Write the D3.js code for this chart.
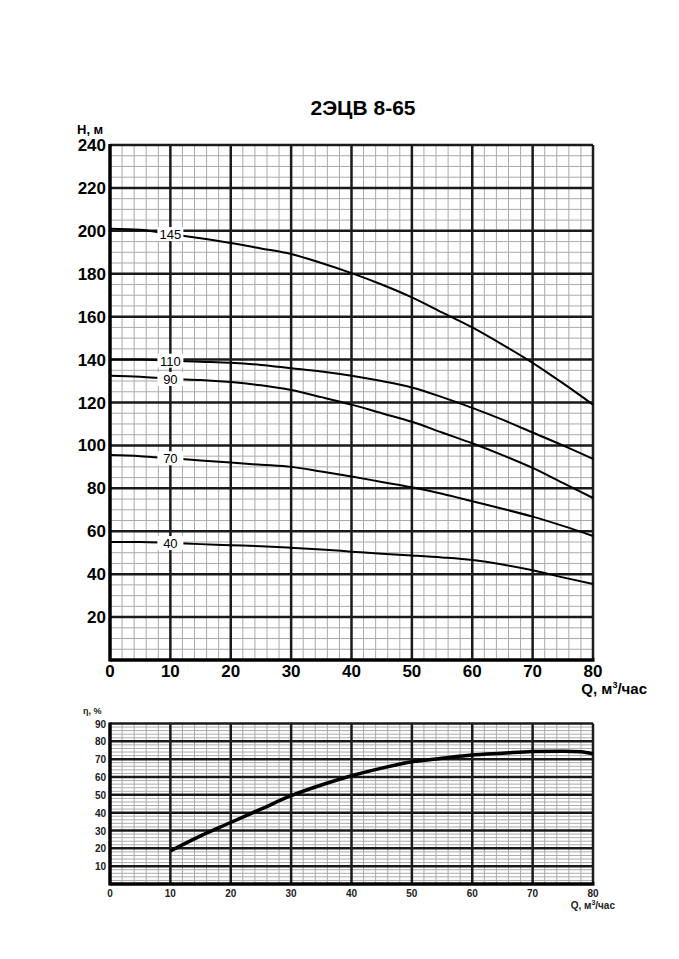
<!DOCTYPE html>
<html>
<head>
<meta charset="utf-8">
<script src="https://cdn.jsdelivr.net/npm/d3@7"></script>
<style>
  body { margin: 0; background: #fff; }
  text { font-family: "Liberation Sans", Arial, sans-serif; }
</style>
</head>
<body>
<div id="viz"></div>
<script>
// Pump 2ЭЦВ 8-65: head curves for several stage counts + efficiency curve

var title = "2ЭЦВ 8-65";

// head chart, Q in m3/h, H in m
var flowQ = [0, 5, 10, 15, 20, 25, 30, 35, 40, 45, 50, 55, 60, 65, 70, 75, 80];
var curveLabels = ["145", "110", "90", "70", "40"];
var head145 = [201, 200.5, 198.5, 196.5, 194.3, 191.8, 189.2, 185, 180.3, 175, 169, 162, 155, 147, 138.5, 129, 119];
var head110 = [140, 140, 139.5, 139, 138.5, 137.5, 136, 134.5, 132.5, 130, 127, 122.5, 117.5, 112, 106, 100, 93.7];
var head90  = [132.5, 132, 131, 130.5, 129.5, 128, 125.8, 122.5, 119, 115, 111, 106, 101, 95.5, 89.5, 82.5, 75.5];
var head70  = [95.5, 95, 94, 93, 92, 91, 90, 87.8, 85.5, 83, 80.5, 77.5, 74, 70.5, 66.8, 62.5, 57.8];
var head40  = [55, 55, 54.5, 54, 53.5, 53, 52.3, 51.5, 50.5, 49.5, 48.7, 47.8, 46.6, 44.5, 41.8, 38.5, 35.4];
var headTicks = [20, 40, 60, 80, 100, 120, 140, 160, 180, 200, 220, 240];
var flowTicks = [0, 10, 20, 30, 40, 50, 60, 70, 80];

// efficiency chart
var effQ   = [10, 15, 20, 25, 30, 35, 40, 45, 50, 55, 60, 65, 70, 75, 78, 80];
var effEta = [18.5, 27, 34.5, 42, 49.5, 55.5, 60.7, 65, 68.5, 70.5, 72.3, 73.3, 74.3, 74.5, 74.2, 73];
var etaTicks = [10, 20, 30, 40, 50, 60, 70, 80, 90];

var W = 679, H = 959;
var LEFT = 110, RIGHT = 593;
var topBox = {t: 145, b: 660};
var botBox = {t: 723.5, b: 884};

var svg = d3.select("#viz").append("svg")
    .attr("width", W).attr("height", H);

var x = d3.scaleLinear().domain([0, 80]).range([LEFT, RIGHT]);
var yH = d3.scaleLinear().domain([0, 240]).range([topBox.b, topBox.t]);
var yE = d3.scaleLinear().domain([0, 90]).range([botBox.b, botBox.t]);

// draws minor + major grid for one panel
function grid(g, y, yMax, yMinorStep, yMajorStep, majorW) {
    var minorX = d3.range(0, 81, 2).filter(function(d) { return d % 10 != 0; });
    var minorY = d3.range(0, yMax + 0.01, yMinorStep).filter(function(d) { return d % yMajorStep != 0; });
    g.selectAll(".mx").data(minorX).enter().append("line")
        .attr("x1", x).attr("x2", x).attr("y1", y(0)).attr("y2", y(yMax))
        .attr("stroke", "#aaa").attr("stroke-width", 1);
    g.selectAll(".my").data(minorY).enter().append("line")
        .attr("x1", LEFT).attr("x2", RIGHT).attr("y1", y).attr("y2", y)
        .attr("stroke", "#aaa").attr("stroke-width", 1);
    g.selectAll(".Mx").data(d3.range(10, 81, 10)).enter().append("line")
        .attr("x1", x).attr("x2", x).attr("y1", y(0)).attr("y2", y(yMax))
        .attr("stroke", "#1a1a1a").attr("stroke-width", majorW);
    g.selectAll(".My").data(d3.range(yMajorStep, yMax + 0.01, yMajorStep)).enter().append("line")
        .attr("x1", LEFT).attr("x2", RIGHT).attr("y1", y).attr("y2", y)
        .attr("stroke", "#1a1a1a").attr("stroke-width", majorW);
    // left and bottom axes heavier
    g.append("line").attr("x1", LEFT).attr("x2", LEFT).attr("y1", y(0) + 1.5).attr("y2", y(yMax) - 1)
        .attr("stroke", "#000").attr("stroke-width", 3.5);
    g.append("line").attr("x1", LEFT).attr("x2", RIGHT + 1.5).attr("y1", y(0)).attr("y2", y(0))
        .attr("stroke", "#000").attr("stroke-width", 3.5);
}

// ---- title
svg.append("text").attr("x", 363).attr("y", 115)
    .attr("text-anchor", "middle").attr("font-size", 21).attr("font-weight", "bold")
    .text(title);

// ---- head chart
var gTop = svg.append("g");
grid(gTop, yH, 240, 5, 20, 2.5);

gTop.selectAll(".yl").data(headTicks).enter().append("text")
    .attr("x", LEFT - 4).attr("y", function(d) { return yH(d) + 6; })
    .attr("text-anchor", "end").attr("font-size", 17).attr("font-weight", "bold")
    .text(function(d) { return d; });
gTop.selectAll(".xl").data(flowTicks).enter().append("text")
    .attr("x", x).attr("y", topBox.b + 17)
    .attr("text-anchor", "middle").attr("font-size", 17).attr("font-weight", "bold")
    .text(function(d) { return d; });
gTop.append("text").attr("x", 77).attr("y", 134)
    .attr("font-size", 13).attr("font-weight", "bold").text("H, м");
var qt = gTop.append("text").attr("x", 647).attr("y", 694)
    .attr("text-anchor", "end").attr("font-size", 15).attr("font-weight", "bold");
qt.append("tspan").text("Q, м");
qt.append("tspan").attr("font-size", 9).attr("dy", -6).text("3");
qt.append("tspan").attr("dy", 6).text("/час");

var headSeries = [head145, head110, head90, head70, head40];
var lineH = d3.line()
    .x(function(d, i) { return x(flowQ[i]); })
    .y(function(d) { return yH(d); })
    .curve(d3.curveMonotoneX);

gTop.selectAll(".curve").data(headSeries).enter().append("path")
    .attr("d", lineH).attr("fill", "none")
    .attr("stroke", "#000").attr("stroke-width", 2);

// labels sit on the Q=10 line, with a white gap in the curve
var lab = gTop.selectAll(".lab").data(headSeries).enter().append("g")
    .attr("transform", function(d) { return "translate(" + x(10) + "," + yH(d[2]) + ")"; });
lab.append("rect").attr("x", -13).attr("y", -7).attr("width", 26).attr("height", 14)
    .attr("fill", "#fff");
lab.append("text").attr("y", 5).attr("text-anchor", "middle").attr("font-size", 13)
    .text(function(d, i) { return curveLabels[i]; });

// ---- efficiency chart
var gBot = svg.append("g");
grid(gBot, yE, 90, 2, 10, 2.5);

gBot.selectAll(".yl").data(etaTicks).enter().append("text")
    .attr("x", LEFT - 4).attr("y", function(d) { return yE(d) + 4; })
    .attr("text-anchor", "end").attr("font-size", 10).attr("font-weight", "bold")
    .attr("fill", "#222")
    .text(function(d) { return d; });
gBot.selectAll(".xl").data(flowTicks).enter().append("text")
    .attr("x", x).attr("y", botBox.b + 13)
    .attr("text-anchor", "middle").attr("font-size", 10).attr("font-weight", "bold")
    .attr("fill", "#222")
    .text(function(d) { return d; });
gBot.append("text").attr("x", 83).attr("y", 714)
    .attr("font-size", 9).attr("font-weight", "bold").attr("fill", "#222").text("η, %");
var qb = gBot.append("text").attr("x", 615).attr("y", 909)
    .attr("text-anchor", "end").attr("font-size", 10).attr("font-weight", "bold").attr("fill", "#222");
qb.append("tspan").text("Q, м");
qb.append("tspan").attr("font-size", 7).attr("dy", -4).text("3");
qb.append("tspan").attr("dy", 4).text("/час");

var lineE = d3.line()
    .x(function(d, i) { return x(effQ[i]); })
    .y(function(d) { return yE(d); })
    .curve(d3.curveMonotoneX);
gBot.append("path").datum(effEta)
    .attr("d", lineE).attr("fill", "none")
    .attr("stroke", "#000").attr("stroke-width", 3.5);
</script>
</body>
</html>
